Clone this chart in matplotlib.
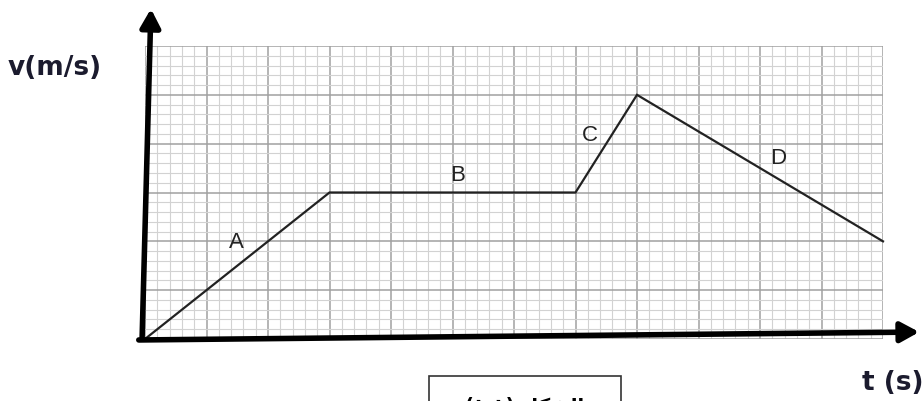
import matplotlib
matplotlib.use("Agg")
import matplotlib.pyplot as plt
from matplotlib.patches import Rectangle
import numpy as np

# velocity-time graph (grid units)
t = [0, 3, 7, 8, 12]
v = [0, 3, 3, 5, 2]
seg_names = ["A", "B", "C", "D"]
seg_label_pos = [(1.48, 1.97), (5.09, 3.34), (7.24, 4.16), (10.3, 3.69)]
t_max, v_max = 12, 6

W, H = 924, 401
fig = plt.figure(figsize=(W / 100, H / 100), dpi=100)
fig.patch.set_facecolor("white")

# grid paper area
ax = fig.add_axes([145 / W, (H - 339) / H, (883 - 145) / W, (339 - 46) / H])
ax.set_xlim(0, t_max)
ax.set_ylim(0, v_max)
for s in ax.spines.values():
    s.set_visible(False)
ax.set_xticks(np.arange(0, t_max + 0.01, 1))
ax.set_yticks(np.arange(0, v_max + 0.01, 1))
ax.set_xticks(np.arange(0, t_max + 0.01, 0.2), minor=True)
ax.set_yticks(np.arange(0, v_max + 0.01, 0.2), minor=True)
ax.tick_params(which="both", length=0, labelbottom=False, labelleft=False)
ax.grid(which="minor", color="#d2d2d2", linewidth=0.8)
ax.grid(which="major", color="#a0a0a0", linewidth=1.1)
ax.set_axisbelow(True)

ax.plot(t, v, color="#222222", linewidth=1.6, solid_joinstyle="miter", clip_on=False)

for name, (x, y) in zip(seg_names, seg_label_pos):
    ax.text(x, y, name, fontsize=16, family="Liberation Sans", color="#222222",
            ha="center", va="center")

# thick axis arrows
arrow = dict(arrowstyle="-|>,head_length=1.1,head_width=0.6", color="black", lw=4)
ax.annotate("", xy=(922, H - 332), xytext=(136, H - 340),
            xycoords="figure pixels", textcoords="figure pixels", arrowprops=arrow)
ax.annotate("", xy=(151, H - 6), xytext=(142, H - 342),
            xycoords="figure pixels", textcoords="figure pixels", arrowprops=arrow)

fig.text(8 / W, (H - 68) / H, "v(m/s)", fontsize=19, fontweight="bold",
         color="#1b1b2e", ha="left", va="center")
fig.text(862 / W, (H - 383) / H, "t (s)", fontsize=19, fontweight="bold",
         color="#1b1b2e", ha="left", va="center")

# caption box, cut at the bottom of the image
fig.add_artist(Rectangle((429 / W, -0.05), (621 - 429) / W, (H - 376) / H + 0.05,
                         transform=fig.transFigure, fill=False,
                         edgecolor="#333333", linewidth=1.2))
caption = "(\u0661-\u0661) \uFEDE\uFEDC\uFEB8\uFEDF\uFE8D"
fig.text(525 / W, -5 / H, caption, fontsize=14, fontweight="bold",
         family=["DejaVu Sans"], ha="center", va="center", color="black")

fig.savefig("out.png", dpi=100, facecolor="white")
